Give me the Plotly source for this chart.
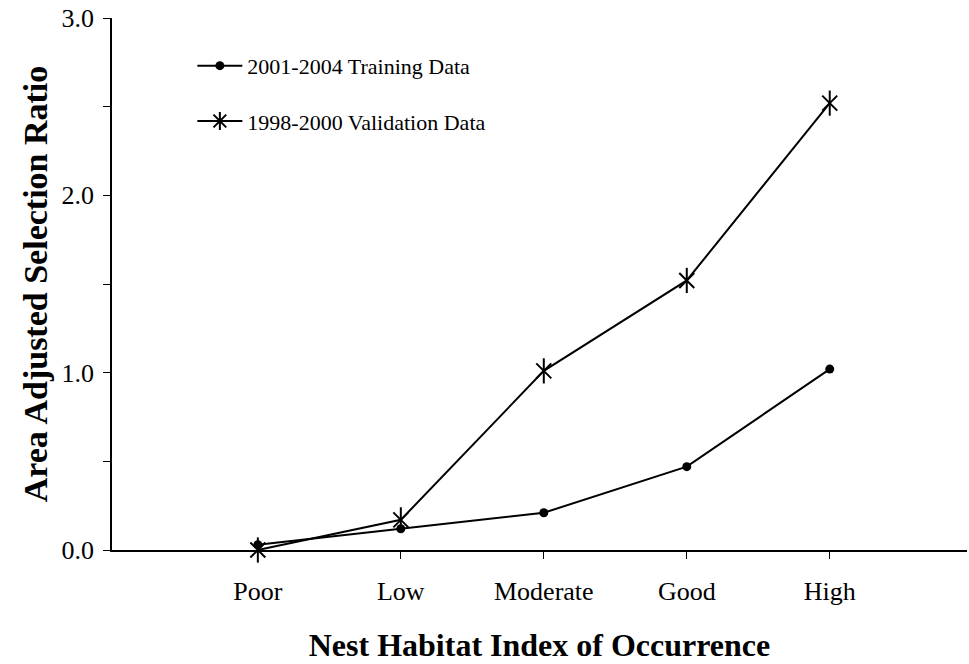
import plotly.graph_objects as go

categories = ["Poor", "Low", "Moderate", "Good", "High"]
training = [0.03, 0.12, 0.21, 0.47, 1.02]
validation = [0.0, 0.17, 1.01, 1.52, 2.52]
y_tick_vals = [0, 1, 2, 3]
y_tick_text = ["0.0", "1.0", "2.0", "3.0"]

xi = list(range(len(categories)))
FONT = "Liberation Serif, Times New Roman, serif"

fig = go.Figure()
fig.add_trace(go.Scatter(
    x=xi, y=training, mode="lines+markers", name="2001-2004 Training Data",
    line=dict(color="black", width=2),
    marker=dict(symbol="circle", size=9, color="black"),
    cliponaxis=False, legend="legend",
))
fig.add_trace(go.Scatter(
    x=xi, y=validation, mode="lines+markers", name="1998-2000 Validation Data",
    line=dict(color="black", width=2),
    marker=dict(symbol="x-thin-open", size=15, color="black", line=dict(width=2, color="black")),
    cliponaxis=False, showlegend=False,
))
fig.add_trace(go.Scatter(
    x=xi, y=validation, mode="markers", name="1998-2000 Validation Data",
    marker=dict(symbol="line-ns-open", size=18, color="black", line=dict(width=2, color="black")),
    cliponaxis=False, showlegend=False,
))
# legend entry for validation (asterisk glyph)
fig.add_trace(go.Scatter(
    x=[None], y=[None], mode="lines+markers", name="1998-2000 Validation Data",
    line=dict(color="black", width=2),
    marker=dict(symbol="asterisk-open", size=15, color="black", line=dict(width=2, color="black")),
    legend="legend2",
))

fig.update_layout(
    width=969, height=664,
    margin=dict(l=112, r=2, t=18, b=114),
    paper_bgcolor="white", plot_bgcolor="white",
    font=dict(family=FONT, color="black", size=24),
    legend=dict(x=0.094, y=0.91, xanchor="left", yanchor="middle",
                font=dict(family=FONT, size=22, color="black"),
                bgcolor="rgba(0,0,0,0)", itemwidth=45),
    legend2=dict(x=0.094, y=0.806, xanchor="left", yanchor="middle",
                 font=dict(family=FONT, size=22, color="black"),
                 bgcolor="rgba(0,0,0,0)", itemwidth=45),
)
fig.update_xaxes(
    range=[-1.02, 4.96], tickvals=xi, ticktext=categories,
    showline=True, linecolor="black", linewidth=1.5,
    ticks="outside", ticklen=7, tickcolor="black", tickwidth=1,
    ticklabelstandoff=10, ticklabeloverflow="allow",
    showgrid=False, zeroline=False,
    tickfont=dict(family=FONT, size=26, color="black"),
    title=dict(text="<b>Nest Habitat Index of Occurrence</b>",
               font=dict(family=FONT, size=32, color="black"), standoff=29),
    automargin=False,
)
fig.update_yaxes(
    range=[0, 3], tickvals=y_tick_vals, ticktext=y_tick_text,
    showline=True, linecolor="black", linewidth=1.5,
    ticks="outside", ticklen=7, tickcolor="black", tickwidth=1,
    minor=dict(dtick=0.5, ticks="outside", ticklen=7, tickcolor="black", tickwidth=1, showgrid=False),
    ticklabelstandoff=4, ticklabeloverflow="allow",
    showgrid=False, zeroline=False,
    tickfont=dict(family=FONT, size=26, color="black"),
    title=dict(text="<b>Area Adjusted Selection Ratio</b>",
               font=dict(family=FONT, size=34, color="black"), standoff=4),
    automargin=False,
)

fig.write_html("out.html", config={"displayModeBar": False},
               post_script="document.body.style.margin='0';")
